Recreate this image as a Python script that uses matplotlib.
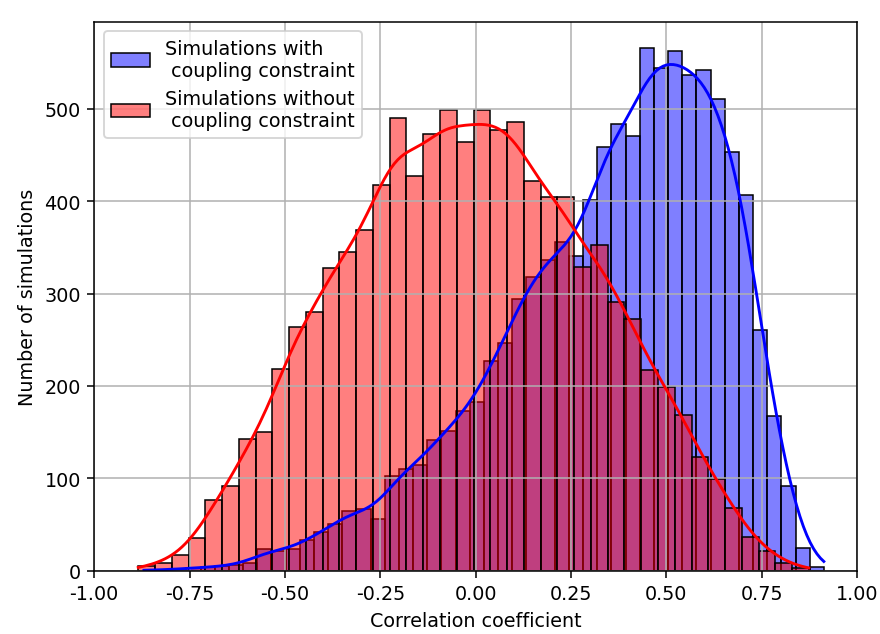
import numpy as np
import matplotlib
matplotlib.use("Agg")
import matplotlib.pyplot as plt

# histogram bins
with_start, with_width = -0.8695, 0.03713
with_counts = [1, 1, 2, 3, 4, 5, 6, 9, 24, 21, 24, 33, 42, 51, 65, 67,
               56, 103, 110, 115, 142, 151, 173, 183, 227, 247, 294, 318, 336, 356, 341, 401,
               459, 484, 471, 566, 544, 562, 536, 542, 510, 453, 407, 261, 167, 92, 25, 4]

without_start, without_width = -0.8845, 0.04395
without_counts = [5, 9, 17, 35, 77, 92, 143, 150, 218, 264, 280, 328, 345, 369, 418, 490,
                  427, 473, 499, 464, 499, 477, 486, 422, 404, 404, 329, 353, 291, 273, 217, 199,
                  169, 123, 99, 68, 37, 21, 9, 3]

label_with = 'Simulations with\n coupling constraint'
label_without = 'Simulations without\n coupling constraint'


def kde_line(start, width, counts):
    # gaussian kde (scott bandwidth) over the binned data, scaled to counts
    counts = np.asarray(counts, dtype=float)
    edges = start + width * np.arange(len(counts) + 1)
    centers = (edges[:-1] + edges[1:]) / 2
    n = counts.sum()
    mean = np.average(centers, weights=counts)
    sd = np.sqrt(np.average((centers - mean) ** 2, weights=counts))
    bw = sd * n ** (-1 / 5)
    grid = np.linspace(edges[0], edges[-1], 200)
    z = (grid[:, None] - centers[None, :]) / bw
    dens = (counts * np.exp(-0.5 * z ** 2)).sum(axis=1) / (n * bw * np.sqrt(2 * np.pi))
    return edges, centers, grid, dens * n * width


fig = plt.figure(figsize=(6.4, 4.618), dpi=137.5)
ax = fig.add_axes([0.107, 0.0995, 0.867, 0.865])

for start, width, counts, col, lab in [
        (with_start, with_width, with_counts, 'blue', label_with),
        (without_start, without_width, without_counts, 'red', label_without)]:
    edges, centers, grid, kde = kde_line(start, width, counts)
    fc = matplotlib.colors.to_rgba(col, 0.5)
    ax.hist(centers, bins=edges, weights=counts, facecolor=fc,
            edgecolor='black', linewidth=0.8, label=lab)
    ax.plot(grid, kde, color=col, linewidth=1.5)

ax.set_xlim(-1, 1)
ax.set_xticks(np.arange(-1, 1.01, 0.25))
ax.set_xticklabels([f'{t:.2f}' for t in np.arange(-1, 1.01, 0.25)])
ax.set_xlabel('Correlation coefficient')
ax.set_ylabel('Number of simulations')
ax.grid(True)
ax.legend(loc='upper left')

fig.savefig('out.png', dpi=137.5)
